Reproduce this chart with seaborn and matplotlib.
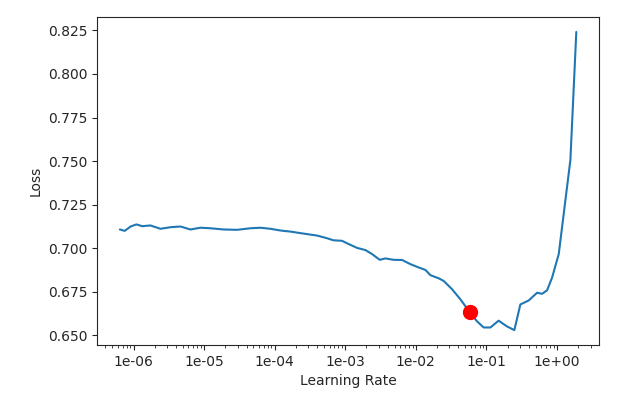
import pandas as pd
import seaborn as sns
import matplotlib.pyplot as plt
from matplotlib.ticker import FormatStrFormatter, NullFormatter

sns.set_style('ticks')

# Learning rate finder values
lrs = [6.4e-07, 7.5e-07, 9.1e-07, 1.1e-06, 1.33e-06, 1.74e-06, 2.41e-06, 3.34e-06,
       4.63e-06, 6.41e-06, 8.9e-06, 1.23e-05, 1.88e-05, 2.94e-05, 4.54e-05, 6.3e-05,
       8.7e-05, 1.13e-04, 1.33e-04, 1.67e-04, 2.32e-04, 4.0e-04, 5.5e-04, 6.8e-04,
       9.0e-04, 1.11e-03, 1.48e-03, 1.93e-03, 2.40e-03, 3.08e-03, 3.71e-03, 4.86e-03,
       6.40e-03, 8.4e-03, 1.10e-02, 1.37e-02, 1.61e-02, 2.11e-02, 2.48e-02, 3.27e-02,
       4.29e-02, 5.93e-02, 7.38e-02, 9.16e-02, 0.114, 0.149, 0.196, 0.249,
       0.303, 0.398, 0.522, 0.615, 0.724, 0.853, 1.06, 1.55, 1.88]
losses = [0.7108, 0.7100, 0.7125, 0.7137, 0.7127, 0.7131, 0.7112, 0.7121,
          0.7125, 0.7108, 0.7118, 0.7115, 0.7108, 0.7106, 0.7115, 0.7118,
          0.7112, 0.7104, 0.7100, 0.7096, 0.7087, 0.7073, 0.7058, 0.7046,
          0.7043, 0.7025, 0.7002, 0.6990, 0.6967, 0.6934, 0.6942, 0.6934,
          0.6933, 0.6909, 0.6890, 0.6876, 0.6846, 0.6828, 0.6813, 0.6765,
          0.6707, 0.6629, 0.6581, 0.6546, 0.6546, 0.6585, 0.6552, 0.6531,
          0.6678, 0.6701, 0.6745, 0.6739, 0.6759, 0.6832, 0.6967, 0.7507, 0.8241]

# suggested learning rate (min gradient)
best_lr = [5.93e-02]
best_loss = [0.6633]

df = pd.DataFrame({'lr': lrs, 'loss': losses})

fig = plt.figure(figsize=(6.34, 4.0), dpi=100)
ax = fig.add_axes([0.153, 0.1375, 0.792, 0.82])

sns.lineplot(data=df, x='lr', y='loss', ax=ax, color='#1f77b4', linewidth=1.5)
ax.plot(best_lr, best_loss, marker='o', markersize=10, color='red', linestyle='none')

ax.set_xscale('log')
ax.xaxis.set_major_formatter(FormatStrFormatter('%.0e'))
ax.xaxis.set_minor_formatter(NullFormatter())
ax.set_xlabel('Learning Rate')
ax.set_ylabel('Loss')

plt.savefig('out.png')
plt.close()
